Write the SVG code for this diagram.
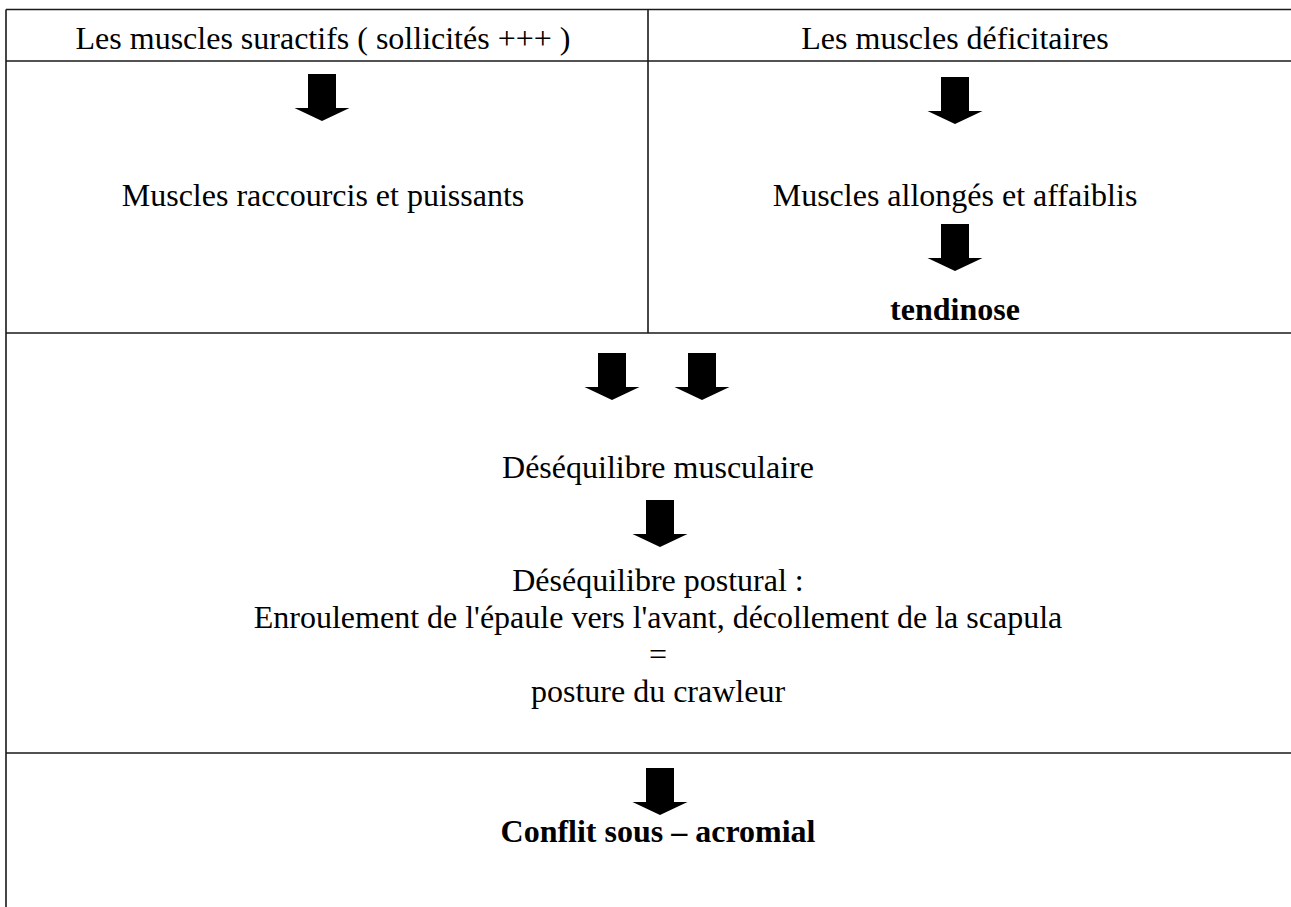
<svg xmlns="http://www.w3.org/2000/svg" xmlns:xlink="http://www.w3.org/1999/xlink" width="1291" height="907" viewBox="0 0 1291 907">
<style>
.t{font-family:"Liberation Serif","Times New Roman",serif;font-size:32px;fill:#000;text-anchor:middle}
.b{font-weight:bold}
.ln{stroke:#1a1a1a;stroke-width:1.6;fill:none}
.ar{fill:#000}
</style>
<defs>
<path id="arr" class="ar" d="M-14,0 H14 V34 H27.5 L0,47 L-27.5,34 H-14 Z"/>
</defs>
<rect width="1291" height="907" fill="#fff"/>
<g id="table">
<path class="ln" d="M6,9.5 H1291 M6,61 H1291 M6,333 H1291 M6,753 H1291 M6,9.5 V907 M648,9.5 V333"/>
</g>
<g id="node-suractifs"><text class="t" x="323" y="49">Les muscles suractifs ( sollicités +++ )</text></g>
<g id="node-deficitaires"><text class="t" x="955" y="49">Les muscles déficitaires</text></g>
<g id="node-raccourcis"><text class="t" x="323" y="206">Muscles raccourcis et puissants</text></g>
<g id="node-allonges"><text class="t" x="955" y="206">Muscles allongés et affaiblis</text></g>
<g id="node-tendinose"><text class="t b" x="955" y="320">tendinose</text></g>
<g id="node-desequilibre-musc"><text class="t" x="658" y="478">Déséquilibre musculaire</text></g>
<g id="node-desequilibre-post">
<text class="t" x="658" y="591">Déséquilibre postural :</text>
<text class="t" x="658" y="628">Enroulement de l'épaule vers l'avant, décollement de la scapula</text>
<text class="t" x="658" y="665">=</text>
<text class="t" x="658" y="702">posture du crawleur</text>
</g>
<g id="node-conflit"><text class="t b" x="658" y="842">Conflit sous – acromial</text></g>
<g id="connectors">
<use xlink:href="#arr" x="322" y="74"/>
<use xlink:href="#arr" x="955" y="77"/>
<use xlink:href="#arr" x="955" y="224"/>
<use xlink:href="#arr" x="612" y="353"/>
<use xlink:href="#arr" x="702" y="353"/>
<use xlink:href="#arr" x="660" y="500"/>
<use xlink:href="#arr" x="660" y="768"/>
</g>
</svg>
